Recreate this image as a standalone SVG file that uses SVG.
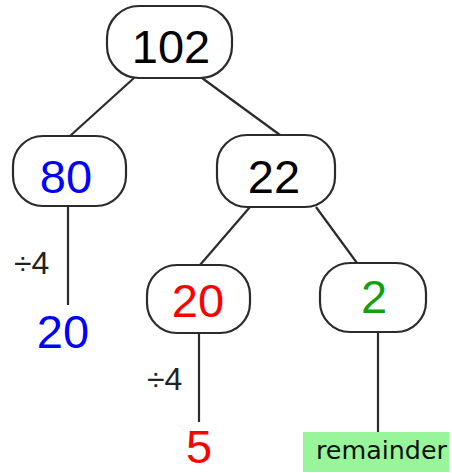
<svg xmlns="http://www.w3.org/2000/svg" width="452" height="473" viewBox="0 0 452 473">
  <style>
    .node { fill: #ffffff; stroke: #2b2b2b; stroke-width: 2.2; }
    .edge { stroke: #2b2b2b; stroke-width: 2.2; fill: none; }
    .num { font-family: "Liberation Sans", Arial, sans-serif; font-size: 47px; text-anchor: middle; }
    .op { font-family: "Liberation Sans", Arial, sans-serif; font-size: 32px; fill: #222222; }
    .label { font-family: "DejaVu Sans", sans-serif; font-size: 24px; fill: #111111; }
  </style>
  <rect width="452" height="473" fill="#ffffff"/>

  <!-- connectors -->
  <g id="connectors">
    <line class="edge" x1="134" y1="78" x2="70" y2="136"/>
    <line class="edge" x1="202" y1="78" x2="280" y2="135"/>
    <line class="edge" x1="250" y1="207" x2="200" y2="265"/>
    <line class="edge" x1="316" y1="207" x2="357" y2="263"/>
    <line class="edge" x1="68" y1="206" x2="68" y2="305"/>
    <line class="edge" x1="199" y1="333" x2="199" y2="422"/>
    <line class="edge" x1="378" y1="332" x2="378" y2="432"/>
  </g>

  <!-- tree nodes -->
  <g id="node-102">
    <rect class="node" x="107" y="6" width="125" height="72" rx="32" ry="32"/>
    <text class="num" x="171" y="63" font-size="52" fill="#000000">102</text>
  </g>
  <g id="node-80">
    <rect class="node" x="13" y="136" width="113" height="70" rx="30" ry="30"/>
    <text class="num" x="66" y="193" fill="#0000ff">80</text>
  </g>
  <g id="node-22">
    <rect class="node" x="217" y="135" width="118" height="72" rx="30" ry="30"/>
    <text class="num" x="274" y="193" fill="#000000">22</text>
  </g>
  <g id="node-20">
    <rect class="node" x="147" y="265" width="103" height="68" rx="30" ry="30"/>
    <text class="num" x="198" y="317" fill="#ff0000">20</text>
  </g>
  <g id="node-2">
    <rect class="node" x="320" y="263" width="106" height="69" rx="30" ry="30"/>
    <text class="num" x="374" y="313" fill="#10a010">2</text>
  </g>

  <!-- division results -->
  <g id="div-80">
    <text class="op" x="14" y="274">÷4</text>
    <text class="num" x="63" y="348" fill="#0000ff">20</text>
  </g>
  <g id="div-20">
    <text class="op" x="147" y="390">÷4</text>
    <text class="num" x="199" y="463" font-size="44" fill="#ff0000">5</text>
  </g>

  <!-- remainder tag -->
  <g id="remainder">
    <rect x="303" y="432" width="146" height="40" fill="#99f599"/>
    <text class="label" x="316" y="459" textLength="131" lengthAdjust="spacingAndGlyphs">remainder</text>
  </g>
</svg>
